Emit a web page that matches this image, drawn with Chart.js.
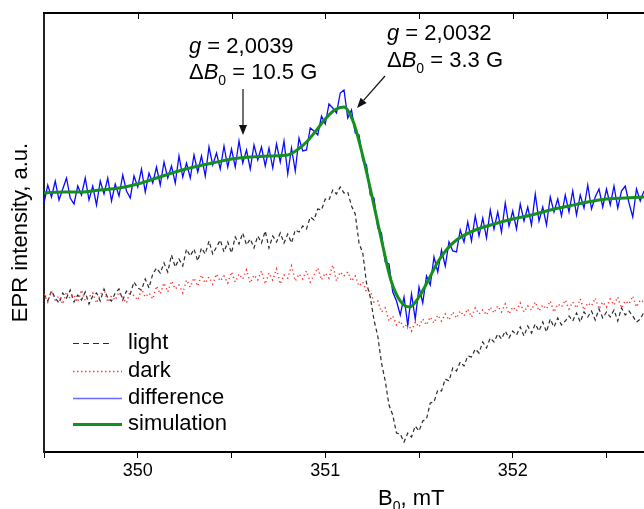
<!DOCTYPE html>
<html>
<head>
<meta charset="utf-8">
<script src="https://cdn.jsdelivr.net/npm/chart.js@4.4.1/dist/chart.umd.min.js"></script>
<style>
html,body{margin:0;padding:0;background:#fff;}
#wrap{width:644px;height:509px;position:relative;}
</style>
</head>
<body>
<div id="wrap"><canvas id="c"></canvas></div>
<script>
// Magnetic field grid (mT) for the measured spectra: 349.50 ... 352.70, step 0.02
const fieldStart = 349.5, fieldStep = 0.02;
const field = [];
for (let i = 0; i <= 160; i++) field.push(+(fieldStart + i * fieldStep).toFixed(2));

const light = [
158,151,161,154,149,159,154,162,150,157,
152,160,148,156,159,151,163,154,151,159,
163,152,161,158,170,164,162,173,164,178,
184,179,189,180,197,185,193,186,203,196,
203,191,204,198,211,198,205,212,200,210,
199,215,208,219,207,213,204,216,209,221,
204,216,210,219,209,218,209,222,220,226,
223,235,232,243,242,253,252,262,258,265,
259,260,246,238,209,199,169,155,132,116,
89,71,47,37,19,18,10,19,15,26,
21,31,33,49,50,62,61,73,71,84,
81,90,86,96,95,103,99,110,104,114,
110,118,113,121,114,121,117,125,116,126,
119,128,121,130,120,133,125,134,127,131,
136,131,139,130,140,135,141,132,143,134,
140,135,142,131,144,137,141,136,130,133,140];

const dark = [
158,150,161,152,156,148,160,153,157,150,
162,151,155,159,149,157,163,150,156,152,
160,154,149,161,156,152,163,155,159,153,
166,158,169,160,171,163,167,159,172,165,
174,166,177,169,175,168,178,171,176,169,
180,170,178,173,182,169,177,172,181,168,
179,172,183,168,177,174,186,171,178,173,
181,170,177,184,172,179,174,187,171,180,
176,180,171,176,166,170,160,161,150,151,
140,144,131,136,127,131,124,129,121,130,
125,133,127,135,129,137,131,138,132,140,
134,141,136,143,135,144,138,142,137,145,
139,146,140,148,138,145,141,149,140,146,
142,150,141,147,143,151,140,148,145,152,
143,150,144,153,142,149,146,154,143,150,
145,153,147,155,144,151,148,156,145,152,150];

const difference = [
249,267,255,271,252,263,274,254,248,266,
257,274,252,266,247,271,258,274,251,268,
256,277,261,254,276,265,283,260,279,269,
285,267,290,274,286,269,296,275,289,274,
297,280,296,276,305,287,299,283,306,285,
303,285,311,289,302,283,307,292,305,286,
304,284,308,290,311,278,304,281,314,301,
302,324,321,317,336,328,348,344,339,359,
362,334,342,319,317,292,287,257,254,224,
219,190,188,160,151,137,155,127,158,133,
165,149,176,167,195,180,202,186,210,201,
200,222,210,230,211,236,216,234,214,242,
223,240,220,249,226,241,223,248,231,245,
227,258,231,245,227,255,240,253,236,257,
240,261,237,257,244,267,243,255,263,245,
263,247,266,244,261,266,249,235,263,251,261];

// Simulated spectrum
const simField = [349.5,349.6,349.7,349.8,349.9,350.0,350.1,350.2,350.3,350.4,350.5,350.6,350.7,350.8,350.85,350.9,350.95,351.0,351.05,351.1,351.15,351.2,351.25,351.3,351.35,351.4,351.45,351.5,351.55,351.6,351.65,351.7,351.8,351.9,352.0,352.1,352.2,352.3,352.4,352.5,352.6,352.7];
const simulation = [259,260,260,262,264,268,274,280,285,289,293,295,296,297,302,310,321,333,342,345,330,296,255,212,172,151,145,155,172,190,203,212,222,228,233,237,242,246,250,253,254,255];

// Axis
const xMin = 349.5, xMax = 352.7, xStep = 0.5;
const yMin = 0, yMax = 439;
const seriesNames = ['light','dark','difference','simulation'];
const annotations = [
  {g:'2,0039', dB:'10.5 G'},
  {g:'2,0032', dB:'3.3 G'}
];

const FONT = '"Liberation Sans", Arial, Helvetica, sans-serif';
const C_LIGHT = '#2a2a2a', C_DARK = '#ff3030', C_DIFF = '#0a0aff', C_SIM = '#14901c';

const pts = (xs, ys) => xs.map((x, i) => ({x, y: ys[i]}));

const deco = {
  id: 'deco',
  afterDraw(chart) {
    const ctx = chart.ctx, a = chart.chartArea, xs = chart.scales.x;
    ctx.save();
    // top frame + inward ticks
    ctx.strokeStyle = '#000'; ctx.lineWidth = 2;
    ctx.beginPath(); ctx.moveTo(a.left - 1, a.top); ctx.lineTo(a.right + 2, a.top); ctx.stroke();
    ctx.lineWidth = 1;
    for (let v = xMin + xStep; v < xMax; v += xStep) {
      const px = Math.round(xs.getPixelForValue(v)) + 0.5;
      ctx.beginPath(); ctx.moveTo(px, a.top); ctx.lineTo(px, a.top + 6); ctx.stroke();
    }
    // annotations
    ctx.fillStyle = '#000'; ctx.textBaseline = 'alphabetic'; ctx.textAlign = 'left';
    const drawAnno = (x, y1, y2, an) => {
      let cx = x;
      ctx.font = 'italic 22px ' + FONT; ctx.fillText('g', cx, y1); cx += ctx.measureText('g').width;
      ctx.font = '22px ' + FONT; ctx.fillText(' = ' + an.g, cx, y1);
      cx = x;
      ctx.font = '22px ' + FONT; ctx.fillText('\u0394', cx, y2); cx += ctx.measureText('\u0394').width;
      ctx.font = 'italic 22px ' + FONT; ctx.fillText('B', cx, y2); cx += ctx.measureText('B').width;
      ctx.font = '14px ' + FONT; ctx.fillText('0', cx, y2 + 6); cx += ctx.measureText('0').width;
      ctx.font = '22px ' + FONT; ctx.fillText(' = ' + an.dB, cx, y2);
    };
    drawAnno(189, 53, 79, annotations[0]);
    drawAnno(387, 40, 67, annotations[1]);
    // arrows
    const arrow = (x1, y1, x2, y2) => {
      ctx.strokeStyle = '#111'; ctx.fillStyle = '#111'; ctx.lineWidth = 1.2;
      const ang = Math.atan2(y2 - y1, x2 - x1), L = 10, W = 4;
      const bx = x2 - L * Math.cos(ang), by = y2 - L * Math.sin(ang);
      ctx.beginPath(); ctx.moveTo(x1, y1); ctx.lineTo(bx, by); ctx.stroke();
      ctx.beginPath(); ctx.moveTo(x2, y2);
      ctx.lineTo(bx + W * Math.sin(ang), by - W * Math.cos(ang));
      ctx.lineTo(bx - W * Math.sin(ang), by + W * Math.cos(ang));
      ctx.closePath(); ctx.fill();
    };
    arrow(243, 89, 243, 135);
    arrow(385, 76, 357, 108);
    // legend
    const ly = [343, 371, 398, 424];
    const styles = [
      {c: C_LIGHT, w: 1.2, d: [6, 4], x2: 113},
      {c: C_DARK, w: 1.4, d: [1.5, 2.5], x2: 122},
      {c: '#6a6aff', w: 1.3, d: [], x2: 122},
      {c: C_SIM, w: 3, d: [], x2: 122}
    ];
    seriesNames.forEach((n, i) => {
      const s = styles[i];
      ctx.strokeStyle = s.c; ctx.lineWidth = s.w; ctx.setLineDash(s.d);
      ctx.beginPath(); ctx.moveTo(73, ly[i] + 0.5); ctx.lineTo(s.x2, ly[i] + 0.5); ctx.stroke();
      ctx.setLineDash([]);
      ctx.fillStyle = '#000'; ctx.font = '22px ' + FONT; ctx.textBaseline = 'middle';
      ctx.fillText(n, 128, ly[i]);
    });
    // x title
    ctx.textBaseline = 'alphabetic';
    let tx = 378;
    ctx.font = '22px ' + FONT; ctx.fillText('B', tx, 505); tx += ctx.measureText('B').width;
    ctx.font = '14px ' + FONT; ctx.fillText('0', tx, 511); tx += ctx.measureText('0').width;
    ctx.font = '22px ' + FONT; ctx.fillText(', mT', tx, 505);
    ctx.restore();
  }
};

new Chart(document.getElementById('c'), {
  type: 'line',
  data: {
    datasets: [
      {label: seriesNames[3], data: pts(simField, simulation), borderColor: C_SIM, borderWidth: 3, pointRadius: 0, cubicInterpolationMode: 'monotone', order: 0},
      {label: seriesNames[2], data: pts(field, difference), borderColor: C_DIFF, borderWidth: 1.3, pointRadius: 0, tension: 0, order: 1},
      {label: seriesNames[1], data: pts(field, dark), borderColor: C_DARK, borderWidth: 1.5, borderDash: [1.2, 3], pointRadius: 0, tension: 0, order: 2},
      {label: seriesNames[0], data: pts(field, light), borderColor: C_LIGHT, borderWidth: 1.2, borderDash: [4, 3], pointRadius: 0, tension: 0, order: 3}
    ]
  },
  options: {
    responsive: true, maintainAspectRatio: false, animation: false,
    layout: {padding: {top: 13, right: 0, left: 0, bottom: 0}},
    plugins: {legend: {display: false}, tooltip: {enabled: false}},
    scales: {
      x: {
        type: 'linear', min: xMin, max: xMax,
        grid: {display: true, drawOnChartArea: false, drawTicks: true, tickLength: 6, color: '#000', lineWidth: 1},
        border: {display: true, color: '#000', width: 2},
        ticks: {stepSize: xStep, includeBounds: false, autoSkip: false, maxRotation: 0, padding: 2, color: '#000',
          font: {family: FONT, size: 18},
          callback: v => Number.isInteger(v) ? String(v) : ''},
        afterFit: s => { s.height = 57; }
      },
      y: {
        min: yMin, max: yMax,
        grid: {display: false},
        border: {display: true, color: '#222', width: 2},
        ticks: {display: false},
        title: {display: true, text: 'EPR intensity, a.u.', color: '#000', font: {family: FONT, size: 22}, padding: {top: 8, bottom: 0}},
        afterFit: s => { s.width = 44; }
      }
    }
  },
  plugins: [deco]
});
</script>
</body>
</html>
